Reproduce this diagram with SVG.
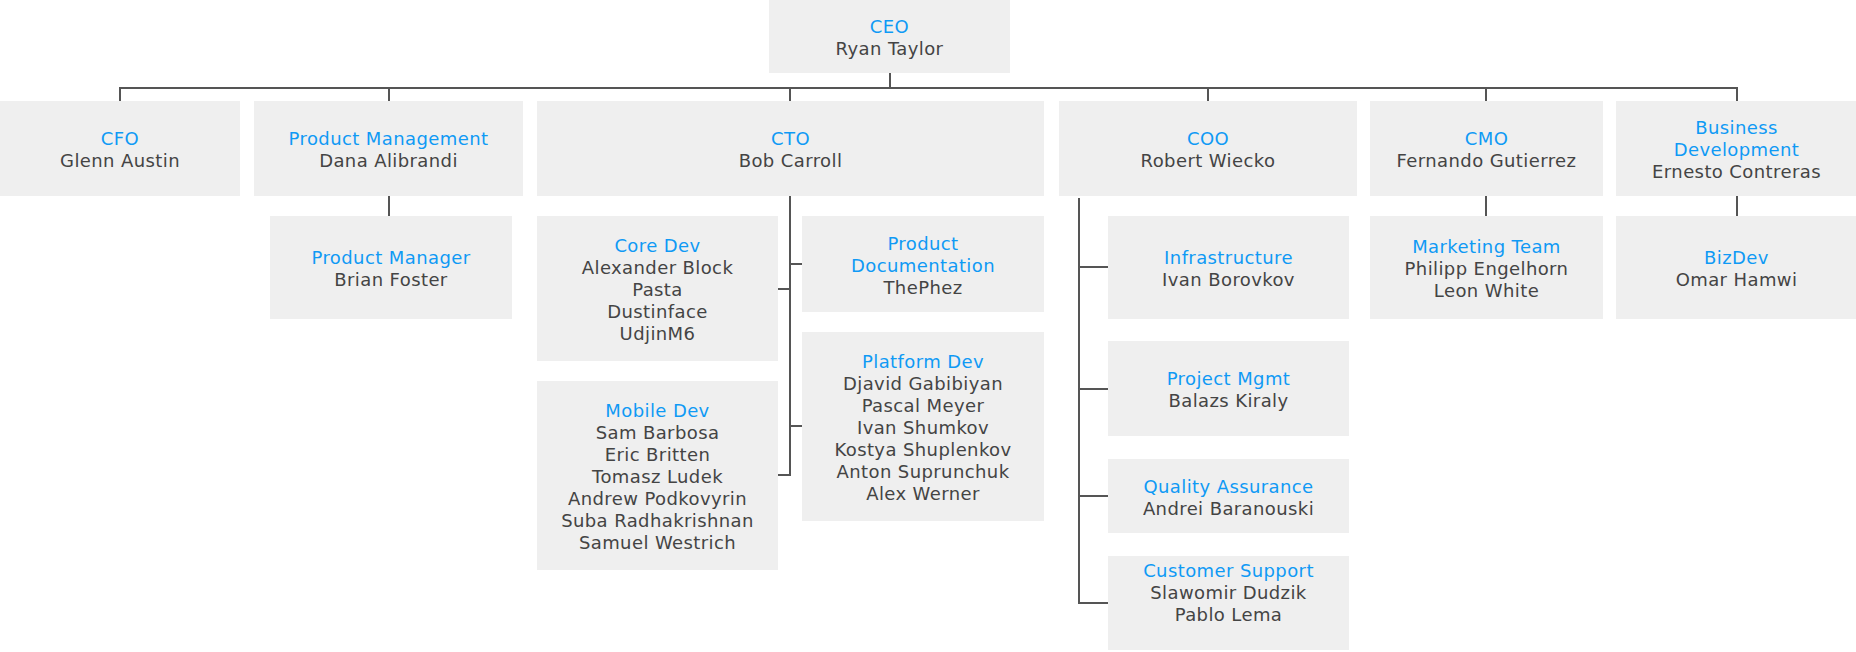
<svg xmlns="http://www.w3.org/2000/svg" width="1856" height="652" viewBox="0 0 1856 652">
<style>
rect.box{fill:#efefef}
text{font-family:"DejaVu Sans","Liberation Sans",sans-serif;font-size:18px;letter-spacing:0.4px;text-anchor:middle}
.t{fill:#0f9af5}
.n{fill:#444444}
.c{fill:none;stroke:#555555;stroke-width:2}
</style>
<rect width="1856" height="652" fill="#ffffff"/>
<g id="connectors" class="c">
<path d="M890 73V88M120 101V88H1737V101M389 88V101M790 88V101M1208 88V101M1486 88V101"/>
<path d="M389 196V216M1486 196V216M1737 196V216"/>
<path d="M790 196V475H778M778 289H790M790 264H802M790 426H802"/>
<path d="M1079 198V603H1108M1079 267H1108M1079 389H1108M1079 496H1108"/>
</g>
<g id="ceo"><rect class="box" x="769" y="0" width="241" height="73"/><text x="889.5" y="33"><tspan class="t">CEO</tspan><tspan class="n" x="889.5" dy="22">Ryan Taylor</tspan></text></g>
<g id="cfo"><rect class="box" x="0" y="101" width="240" height="95"/><text x="120" y="145"><tspan class="t">CFO</tspan><tspan class="n" x="120" dy="22">Glenn Austin</tspan></text></g>
<g id="product-management"><rect class="box" x="254" y="101" width="269" height="95"/><text x="388.5" y="145"><tspan class="t">Product Management</tspan><tspan class="n" x="388.5" dy="22">Dana Alibrandi</tspan></text></g>
<g id="cto"><rect class="box" x="537" y="101" width="507" height="95"/><text x="790.5" y="145"><tspan class="t">CTO</tspan><tspan class="n" x="790.5" dy="22">Bob Carroll</tspan></text></g>
<g id="coo"><rect class="box" x="1059" y="101" width="298" height="95"/><text x="1208" y="145"><tspan class="t">COO</tspan><tspan class="n" x="1208" dy="22">Robert Wiecko</tspan></text></g>
<g id="cmo"><rect class="box" x="1370" y="101" width="233" height="95"/><text x="1486.5" y="145"><tspan class="t">CMO</tspan><tspan class="n" x="1486.5" dy="22">Fernando Gutierrez</tspan></text></g>
<g id="business-development"><rect class="box" x="1616" y="101" width="240" height="95"/><text x="1736.5" y="134"><tspan class="t">Business</tspan><tspan class="t" x="1736.5" dy="22">Development</tspan><tspan class="n" x="1736.5" dy="22">Ernesto Contreras</tspan></text></g>
<g id="product-manager"><rect class="box" x="270" y="216" width="242" height="103"/><text x="391" y="264"><tspan class="t">Product Manager</tspan><tspan class="n" x="391" dy="22">Brian Foster</tspan></text></g>
<g id="core-dev"><rect class="box" x="537" y="216" width="241" height="145"/><text x="657.5" y="252"><tspan class="t">Core Dev</tspan><tspan class="n" x="657.5" dy="22">Alexander Block</tspan><tspan class="n" x="657.5" dy="22">Pasta</tspan><tspan class="n" x="657.5" dy="22">Dustinface</tspan><tspan class="n" x="657.5" dy="22">UdjinM6</tspan></text></g>
<g id="product-documentation"><rect class="box" x="802" y="216" width="242" height="96"/><text x="923" y="249.5"><tspan class="t">Product</tspan><tspan class="t" x="923" dy="22">Documentation</tspan><tspan class="n" x="923" dy="22">ThePhez</tspan></text></g>
<g id="mobile-dev"><rect class="box" x="537" y="381" width="241" height="189"/><text x="657.5" y="417"><tspan class="t">Mobile Dev</tspan><tspan class="n" x="657.5" dy="22">Sam Barbosa</tspan><tspan class="n" x="657.5" dy="22">Eric Britten</tspan><tspan class="n" x="657.5" dy="22">Tomasz Ludek</tspan><tspan class="n" x="657.5" dy="22">Andrew Podkovyrin</tspan><tspan class="n" x="657.5" dy="22">Suba Radhakrishnan</tspan><tspan class="n" x="657.5" dy="22">Samuel Westrich</tspan></text></g>
<g id="platform-dev"><rect class="box" x="802" y="332" width="242" height="189"/><text x="923" y="368"><tspan class="t">Platform Dev</tspan><tspan class="n" x="923" dy="22">Djavid Gabibiyan</tspan><tspan class="n" x="923" dy="22">Pascal Meyer</tspan><tspan class="n" x="923" dy="22">Ivan Shumkov</tspan><tspan class="n" x="923" dy="22">Kostya Shuplenkov</tspan><tspan class="n" x="923" dy="22">Anton Suprunchuk</tspan><tspan class="n" x="923" dy="22">Alex Werner</tspan></text></g>
<g id="infrastructure"><rect class="box" x="1108" y="216" width="241" height="103"/><text x="1228.5" y="264"><tspan class="t">Infrastructure</tspan><tspan class="n" x="1228.5" dy="22">Ivan Borovkov</tspan></text></g>
<g id="project-mgmt"><rect class="box" x="1108" y="341" width="241" height="95"/><text x="1228.5" y="385"><tspan class="t">Project Mgmt</tspan><tspan class="n" x="1228.5" dy="22">Balazs Kiraly</tspan></text></g>
<g id="quality-assurance"><rect class="box" x="1108" y="459" width="241" height="74"/><text x="1228.5" y="492.5"><tspan class="t">Quality Assurance</tspan><tspan class="n" x="1228.5" dy="22">Andrei Baranouski</tspan></text></g>
<g id="customer-support"><rect class="box" x="1108" y="556" width="241" height="94"/><text x="1228.5" y="577"><tspan class="t">Customer Support</tspan><tspan class="n" x="1228.5" dy="22">Slawomir Dudzik</tspan><tspan class="n" x="1228.5" dy="22">Pablo Lema</tspan></text></g>
<g id="marketing-team"><rect class="box" x="1370" y="216" width="233" height="103"/><text x="1486.5" y="253"><tspan class="t">Marketing Team</tspan><tspan class="n" x="1486.5" dy="22">Philipp Engelhorn</tspan><tspan class="n" x="1486.5" dy="22">Leon White</tspan></text></g>
<g id="bizdev"><rect class="box" x="1616" y="216" width="240" height="103"/><text x="1736.5" y="264"><tspan class="t">BizDev</tspan><tspan class="n" x="1736.5" dy="22">Omar Hamwi</tspan></text></g>
</svg>
